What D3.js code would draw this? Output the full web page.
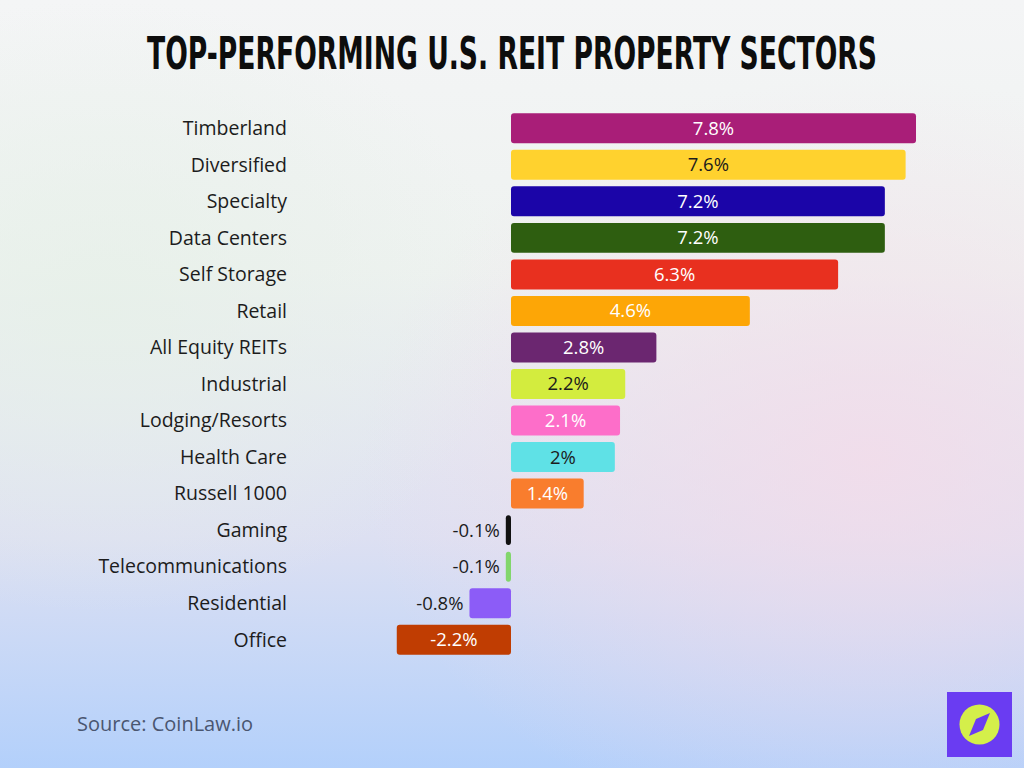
<!DOCTYPE html>
<html>
<head>
<meta charset="utf-8">
<script src="https://cdn.jsdelivr.net/npm/d3@7"></script>
<style>
  body { margin: 0; }
  svg { display: block; }
</style>
</head>
<body>
<div id="chart"></div>
<script>
// data
var sectors = ["Timberland", "Diversified", "Specialty", "Data Centers", "Self Storage", "Retail",
  "All Equity REITs", "Industrial", "Lodging/Resorts", "Health Care", "Russell 1000",
  "Gaming", "Telecommunications", "Residential", "Office"];
var returns = [7.8, 7.6, 7.2, 7.2, 6.3, 4.6, 2.8, 2.2, 2.1, 2, 1.4, -0.1, -0.1, -0.8, -2.2];
var barColors = ["#a91e78", "#ffd22e", "#1b05a8", "#2e5e10", "#e8301f", "#fda606",
  "#6b2670", "#d3ec3e", "#fd6ec9", "#5fe1e6", "#f97d2d", "#111111", "#82d66c", "#8c5cf7", "#c03d02"];
var darkText = ["Diversified", "Industrial", "Health Care"];

var width = 1024, height = 768;

var svg = d3.select("#chart").append("svg")
    .attr("width", width)
    .attr("height", height);

var defs = svg.append("defs");
var bg = defs.append("linearGradient").attr("id", "bg")
    .attr("x1", 0).attr("y1", 0).attr("x2", 0).attr("y2", 1);
bg.append("stop").attr("offset", "0%").attr("stop-color", "#f4f5f6");
bg.append("stop").attr("offset", "35%").attr("stop-color", "#eef2f0");
bg.append("stop").attr("offset", "70%").attr("stop-color", "#dde0f2");
bg.append("stop").attr("offset", "100%").attr("stop-color", "#b3d0fb");
var pink = defs.append("radialGradient").attr("id", "pink")
    .attr("cx", 0.85).attr("cy", 0.6).attr("r", 0.5);
pink.append("stop").attr("offset", "0%").attr("stop-color", "#f4dbe9").attr("stop-opacity", 0.8);
pink.append("stop").attr("offset", "100%").attr("stop-color", "#f4dbe9").attr("stop-opacity", 0);
var green = defs.append("radialGradient").attr("id", "green")
    .attr("cx", 0.1).attr("cy", 0.4).attr("r", 0.4);
green.append("stop").attr("offset", "0%").attr("stop-color", "#e6f0e8").attr("stop-opacity", 0.8);
green.append("stop").attr("offset", "100%").attr("stop-color", "#e6f0e8").attr("stop-opacity", 0);

svg.append("rect").attr("width", width).attr("height", height).attr("fill", "url(#bg)");
svg.append("rect").attr("width", width).attr("height", height).attr("fill", "url(#pink)");
svg.append("rect").attr("width", width).attr("height", height).attr("fill", "url(#green)");

// title, squeezed to the width it has in the picture
var title = svg.append("text")
    .attr("text-anchor", "middle")
    .attr("font-family", "DejaVu Sans Condensed, DejaVu Sans")
    .attr("font-weight", "bold")
    .attr("font-size", 45)
    .attr("fill", "#0d0d0d")
    .text("TOP-PERFORMING U.S. REIT PROPERTY SECTORS");
var tw = title.node().getComputedTextLength();
title.attr("transform", "translate(512,69) scale(" + (730 / tw) + ",1)");

// scales
var x = d3.scaleLinear().domain([0, 7.8]).range([511, 916]);
var y = d3.scaleBand().domain(sectors).range([110, 658]).paddingInner(0.18).paddingOuter(0.09);

var rows = svg.append("g").selectAll("g")
    .data(sectors)
    .enter().append("g");

// sector labels
rows.append("text")
    .attr("x", 287)
    .attr("y", function(d) { return y(d) + y.bandwidth() / 2; })
    .attr("dy", "0.35em")
    .attr("text-anchor", "end")
    .attr("font-family", "Open Sans, sans-serif")
    .attr("font-size", 19.5)
    .attr("fill", "#1c1c1c")
    .text(function(d) { return d; });

function outside(v) { return v < 0 && Math.abs(x(v) - x(0)) < 70; }

// bars
rows.append("rect")
    .attr("x", function(d, i) { return Math.min(x(0), x(returns[i])); })
    .attr("y", function(d) { return y(d); })
    .attr("width", function(d, i) { return Math.max(3, Math.abs(x(returns[i]) - x(0))); })
    .attr("height", y.bandwidth())
    .attr("rx", 3)
    .attr("fill", function(d, i) { return barColors[i]; });

// value labels
rows.append("text")
    .attr("x", function(d, i) {
      var v = returns[i];
      return outside(v) ? x(v) - 6 : (x(0) + x(v)) / 2;
    })
    .attr("y", function(d) { return y(d) + y.bandwidth() / 2; })
    .attr("dy", "0.35em")
    .attr("text-anchor", function(d, i) { return outside(returns[i]) ? "end" : "middle"; })
    .attr("font-family", "Open Sans, sans-serif")
    .attr("font-size", 18.5)
    .attr("fill", function(d, i) {
      if (outside(returns[i])) return "#1c1c1c";
      return darkText.indexOf(d) >= 0 ? "#1c1c1c" : "#ffffff";
    })
    .text(function(d, i) { return returns[i] + "%"; });

// source
svg.append("text")
    .attr("x", 77).attr("y", 731)
    .attr("font-family", "Open Sans, sans-serif")
    .attr("font-size", 20)
    .attr("fill", "#4a5670")
    .text("Source: CoinLaw.io");

// logo
var logo = svg.append("g").attr("transform", "translate(947,692)");
logo.append("rect").attr("width", 65).attr("height", 65).attr("fill", "#6a3cf2");
logo.append("circle").attr("cx", 32.5).attr("cy", 32.5).attr("r", 20).attr("fill", "#d4ef4a");
logo.append("path")
    .attr("d", "M43,21 L36,38 L22,44 L29,27 Z")
    .attr("fill", "#6a3cf2");
</script>
</body>
</html>
